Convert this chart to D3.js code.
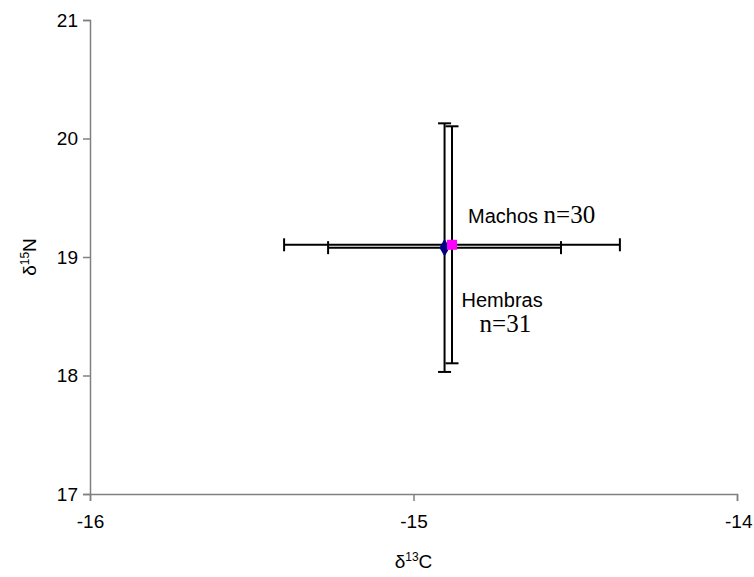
<!DOCTYPE html>
<html>
<head>
<meta charset="utf-8">
<script src="https://cdn.jsdelivr.net/npm/d3@7"></script>
<style>
  html, body { margin: 0; padding: 0; background: #fff; }
  svg { display: block; }
  .tick text { font-family: "Liberation Sans", Arial, sans-serif; }
</style>
</head>
<body>
<svg id="chart" width="754" height="577"></svg>
<script>
// Group names and sample sizes
const groups = ["Hembras", "Machos"];
const sampleSizes = [31, 30];
// Mean isotope values per group
const meanC13 = [-14.904, -14.881];
const meanN15 = [19.079, 19.103];
// Standard deviations per group
const sdC13 = [0.36, 0.519];
const sdN15 = [1.049, 1.0];
// Axis ticks
const xTicks = [-16, -15, -14];
const yTicks = [17, 18, 19, 20, 21];

const svg = d3.select("#chart");
const margin = { left: 90, top: 20, right: 17, bottom: 83 };
const W = 754, H = 577;
const x = d3.scaleLinear().domain([-16, -14]).range([margin.left, W - margin.right]);
const y = d3.scaleLinear().domain([17, 21]).range([H - margin.bottom, margin.top]);

const axisColor = "#808080";
const fontSans = "'Liberation Sans', Arial, sans-serif";
const fontSerif = "'Liberation Serif', 'Times New Roman', serif";
// plain hyphen for negative numbers
const fmt = d => String(d);

// Y axis
const gy = svg.append("g")
  .attr("transform", `translate(${margin.left},0)`)
  .call(d3.axisLeft(y).tickValues(yTicks).tickSize(7).tickPadding(5).tickFormat(fmt));
gy.select(".domain").attr("stroke", axisColor).attr("stroke-width", 1.5);
gy.selectAll(".tick line").attr("stroke", axisColor).attr("stroke-width", 1.5);
gy.selectAll(".tick text").attr("font-size", 19).attr("fill", "#000");

// X axis
const gx = svg.append("g")
  .attr("transform", `translate(0,${H - margin.bottom})`)
  .call(d3.axisBottom(x).tickValues(xTicks).tickSize(7).tickPadding(14).tickFormat(fmt));
gx.select(".domain").attr("stroke", axisColor).attr("stroke-width", 1.5);
gx.selectAll(".tick line").attr("stroke", axisColor).attr("stroke-width", 1.5);
gx.selectAll(".tick text").attr("font-size", 19).attr("fill", "#000");
// last label is kept inside the right edge
gx.selectAll(".tick text").filter(d => d === -14)
  .attr("text-anchor", "end").attr("dx", 15);

// Axis titles
const xt = svg.append("text")
  .attr("x", x(-15)).attr("y", 568)
  .attr("text-anchor", "middle")
  .attr("font-family", fontSans).attr("font-size", 19);
xt.append("tspan").text("δ");
xt.append("tspan").attr("font-size", 12).attr("dy", -7).text("13");
xt.append("tspan").attr("dy", 7).text("C");

const yt = svg.append("text")
  .attr("transform", `translate(36,${y(19)}) rotate(-90)`)
  .attr("text-anchor", "middle")
  .attr("font-family", fontSans).attr("font-size", 19);
yt.append("tspan").text("δ");
yt.append("tspan").attr("font-size", 12).attr("dy", -7).text("15");
yt.append("tspan").attr("dy", 7).text("N");

// Error bars
const cap = 6.5;
const bars = svg.append("g").attr("stroke", "#000").attr("stroke-width", 2).attr("fill", "none");
groups.forEach((g, i) => {
  const cx = x(meanC13[i]), cy = y(meanN15[i]);
  const x0 = x(meanC13[i] - sdC13[i]), x1 = x(meanC13[i] + sdC13[i]);
  const y0 = y(meanN15[i] - sdN15[i]), y1 = y(meanN15[i] + sdN15[i]);
  // horizontal
  bars.append("line").attr("x1", x0).attr("x2", x1).attr("y1", cy).attr("y2", cy);
  bars.append("line").attr("x1", x0).attr("x2", x0).attr("y1", cy - cap).attr("y2", cy + cap);
  bars.append("line").attr("x1", x1).attr("x2", x1).attr("y1", cy - cap).attr("y2", cy + cap);
  // vertical
  bars.append("line").attr("x1", cx).attr("x2", cx).attr("y1", y0).attr("y2", y1);
  bars.append("line").attr("x1", cx - cap).attr("x2", cx + cap).attr("y1", y0).attr("y2", y0);
  bars.append("line").attr("x1", cx - cap).attr("x2", cx + cap).attr("y1", y1).attr("y2", y1);
});

// Markers: diamond for Hembras, square for Machos
const markerShapes = [d3.symbolDiamond, d3.symbolSquare];
const markerColors = ["#000080", "#FF00FF"];
const markerSizes = [90, 100];
groups.forEach((g, i) => {
  svg.append("path")
    .attr("d", d3.symbol().type(markerShapes[i]).size(markerSizes[i])())
    .attr("transform", `translate(${x(meanC13[i])},${y(meanN15[i])})`)
    .attr("fill", markerColors[i]);
});

// Group labels
const mi = groups.indexOf("Machos");
const machos = svg.append("text").attr("x", x(meanC13[mi]) + 16).attr("y", y(meanN15[mi]) - 22);
machos.append("tspan").attr("font-family", fontSans).attr("font-size", 20).text("Machos ");
machos.append("tspan").attr("font-family", fontSerif).attr("font-size", 25).text("n=" + sampleSizes[mi]);

const hi = groups.indexOf("Hembras");
svg.append("text").attr("x", x(meanC13[hi]) + 17).attr("y", y(meanN15[hi]) + 59)
  .attr("font-family", fontSans).attr("font-size", 20).text("Hembras");
svg.append("text").attr("x", x(meanC13[hi]) + 35).attr("y", y(meanN15[hi]) + 84)
  .attr("font-family", fontSerif).attr("font-size", 25).text("n=" + sampleSizes[hi]);
</script>
</body>
</html>
